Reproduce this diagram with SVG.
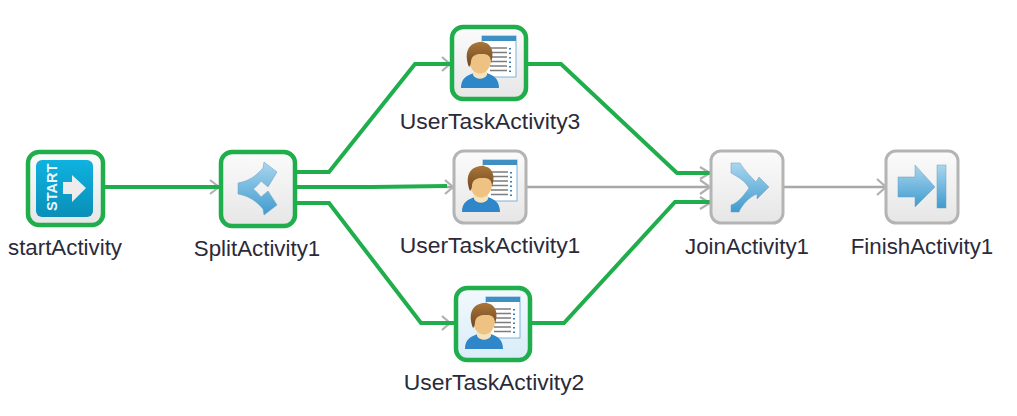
<svg xmlns="http://www.w3.org/2000/svg" xmlns:xlink="http://www.w3.org/1999/xlink" width="1017" height="416" viewBox="0 0 1017 416">
<style>
text{font-family:"Liberation Sans",Arial,sans-serif;font-size:22.3px;fill:#2a2a3a;text-anchor:middle}
text.u{font-size:22.9px}
.g{fill:none;stroke:#1fae4b;stroke-width:4}
.a{fill:none;stroke:#a8a8a8;stroke-width:2.5}
.h{fill:none;stroke:#b0b0b0;stroke-width:2.2}
.box{fill:url(#bg);stroke:#b4b4b4;stroke-width:3}
.sel{fill:url(#bg);stroke:#1fae4b;stroke-width:4.500}
.ic{fill:url(#blue);stroke:#6c9fbe;stroke-width:.5}
</style>
<defs>
<linearGradient id="bg" x1="0" y1="0" x2="0" y2="1"><stop offset="0" stop-color="#fbfbfb"/><stop offset="1" stop-color="#e6e6e6"/></linearGradient>
<linearGradient id="bg2" x1="0" y1="0" x2="0" y2="1"><stop offset="0" stop-color="#f3f9fd"/><stop offset="1" stop-color="#d8ecf8"/></linearGradient>
<linearGradient id="blue" x1="0" y1="0" x2="0" y2="1"><stop offset="0" stop-color="#a9d6ee"/><stop offset="1" stop-color="#3f9bcf"/></linearGradient>
<linearGradient id="st" x1="0" y1="0" x2="0" y2="1"><stop offset="0" stop-color="#0fb2e0"/><stop offset="1" stop-color="#0a8fb8"/></linearGradient>
<linearGradient id="hair" x1="0" y1="0" x2="0" y2="1"><stop offset="0" stop-color="#a9763a"/><stop offset="1" stop-color="#70451f"/></linearGradient>
<g id="user">
<rect x="30" y="9" width="34" height="41" fill="#fff" stroke="#7fb2d8"/>
<rect x="30" y="9" width="34" height="5" fill="#3d8fc4"/>
<path d="M38 21H55M38 25.500H55M38 30H55M38 34.500H55M38 39H55M38 43.500H55" stroke="#7d7d7d" stroke-width="1.400"/>
<path d="M58 21v1.500M58 25.500v1.500M58 30v1.500M58 34.500v1.500M58 39v1.500M58 43.500v1.500" stroke="#2f7fc0" stroke-width="2"/>
<path d="M9 61C9 52 14 48 23 46C26 51 31 51 34 46C42 48 47 52 47 61Z" fill="#2f86c8"/>
<path d="M21 42h14v6c-3 5-11 5-14 0Z" fill="#f5e3bd"/>
<ellipse cx="28" cy="33" rx="11" ry="13.500" fill="#eec282"/>
<path d="M17 40C11 24 18 15 29 15C39 15 43 24 39 36C39 29 36 27 31 27C26 27 20 27 19 34C19 37 18 39 17 40Z" fill="url(#hair)"/>
</g>
</defs>
<rect width="1017" height="416" fill="#fff"/>
<g id="connectors">
<path class="a" d="M527 187H709M783 187H884M446 187H453"/>
<path class="h" d="M877 179l9 8-9 8M700 180l10 7-10 7M700 167l10 6-10 6M700 197l10 6-10 6M210 180l9 7-9 7M442 57l8 7-8 7M445 180l8 7-8 7M442 316l8 7-8 7"/>
<path class="g" d="M104 187H219"/>
<path class="g" d="M296 172H329L415 64H451"/>
<path class="g" d="M296 187H372L447 186"/>
<path class="g" d="M296 203H329L421 323H455"/>
<path class="g" d="M526 64H561L677 173H711"/>
<path class="g" d="M530 323H564L675 202H711"/>
</g>
<g id="startActivity">
<rect class="sel" x="28" y="152" width="75" height="73" rx="11"/>
<rect x="36" y="160" width="57" height="57" rx="6" fill="url(#st)"/>
<path d="M63 182H72V175L86 188L72 202V194H63Z" fill="#ececec"/>
<text transform="translate(57,211) rotate(-90)" style="font-size:14.500px;font-weight:bold;fill:#e8f7fc;text-anchor:start">START</text>
<text x="65" y="255">startActivity</text>
</g>
<g id="SplitActivity1">
<rect class="sel" x="221" y="152" width="74" height="74" rx="11"/>
<path class="ic" d="M238 183C249 181 256 176 263 168L264 162L277 172L268 187L261 181C258 185 256 187 253 189C256 191 258 193 261 197L268 191L277 205L264 215L263 209C256 201 249 196 238 194Z"/>
<text x="257" y="256">SplitActivity1</text>
</g>
<g id="UserTaskActivity3">
<rect class="sel" x="452" y="27" width="74" height="72" rx="11"/>
<use xlink:href="#user" href="#user" x="452" y="27"/>
<text class="u" x="490" y="129">UserTaskActivity3</text>
</g>
<g id="UserTaskActivity1">
<rect class="box" x="454" y="151" width="72" height="72" rx="10"/>
<use xlink:href="#user" href="#user" x="453" y="151"/>
<text class="u" x="490" y="253">UserTaskActivity1</text>
</g>
<g id="UserTaskActivity2">
<rect x="456" y="288" width="74" height="72" rx="11" fill="url(#bg2)" stroke="#1fae4b" stroke-width="4.500"/>
<use xlink:href="#user" href="#user" x="456" y="288"/>
<text class="u" x="494" y="390">UserTaskActivity2</text>
</g>
<g id="JoinActivity1">
<rect class="box" x="711" y="151" width="72" height="72" rx="10"/>
<path class="ic" d="M731 163H740C745 171 751 177 756 182L759 177L769 187L757 199L757 194C749 197 742 205 739 212H731V205C738 203 744 195 749 188C744 180 738 177 731 173Z"/>
<text x="747" y="254">JoinActivity1</text>
</g>
<g id="FinishActivity1">
<rect class="box" x="886" y="151" width="72" height="72" rx="10"/>
<path class="ic" d="M898 177H915V165L935 187L915 207V197H898Z"/>
<rect class="ic" x="937" y="165" width="9" height="43"/>
<text x="922" y="254">FinishActivity1</text>
</g>
</svg>
